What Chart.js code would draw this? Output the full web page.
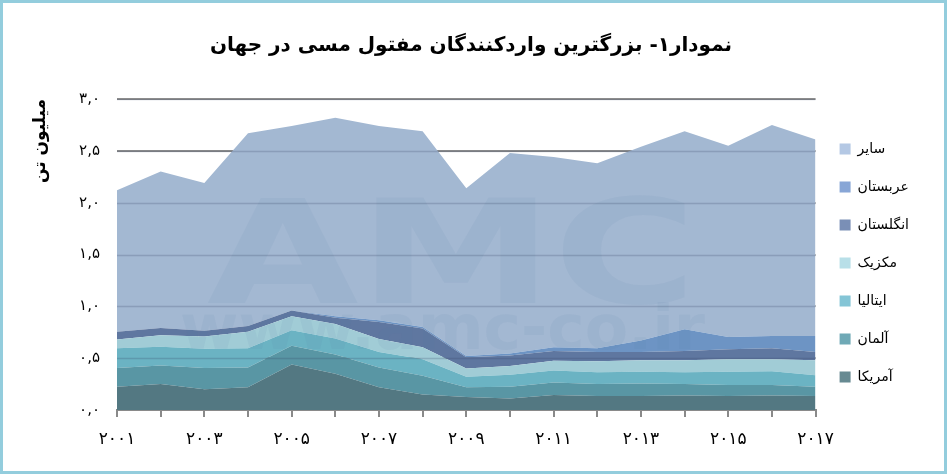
<!DOCTYPE html>
<html>
<head>
<meta charset="utf-8">
<script src="https://cdn.jsdelivr.net/npm/chart.js@4.4.1/dist/chart.umd.min.js"></script>
<style>
  html, body { margin: 0; padding: 0; background: #fff; }
  #wrap { position: relative; width: 947px; height: 474px; box-sizing: border-box; border: 3px solid #93cddd; }
</style>
</head>
<body>
<div id="wrap"><canvas id="chart" dir="rtl"></canvas></div>
<script>
// years on the x axis
const years = [2001, 2002, 2003, 2004, 2005, 2006, 2007, 2008, 2009,
               2010, 2011, 2012, 2013, 2014, 2015, 2016, 2017];

// series, bottom of the stack first (million tonnes)
const seriesNames = ['آمریکا', 'آلمان', 'ایتالیا', 'مکزیک', 'انگلستان', 'عربستان', 'سایر'];
const usa     = [0.225, 0.25, 0.20, 0.22, 0.44, 0.35, 0.22, 0.15, 0.125, 0.11, 0.145, 0.135, 0.135, 0.14, 0.135, 0.14, 0.135];
const germany = [0.18, 0.18, 0.205, 0.19, 0.18, 0.185, 0.19, 0.18, 0.095, 0.115, 0.12, 0.115, 0.12, 0.11, 0.105, 0.10, 0.09];
const italy   = [0.19, 0.18, 0.185, 0.185, 0.15, 0.155, 0.15, 0.16, 0.10, 0.115, 0.115, 0.115, 0.115, 0.115, 0.13, 0.135, 0.11];
const mexico  = [0.085, 0.11, 0.12, 0.16, 0.135, 0.14, 0.125, 0.115, 0.08, 0.085, 0.095, 0.105, 0.11, 0.115, 0.12, 0.115, 0.145];
const uk      = [0.075, 0.07, 0.055, 0.055, 0.055, 0.06, 0.165, 0.18, 0.11, 0.10, 0.095, 0.09, 0.08, 0.09, 0.095, 0.105, 0.08];
const saudi   = [0, 0, 0, 0, 0, 0.015, 0.015, 0.015, 0.01, 0.02, 0.035, 0.035, 0.11, 0.21, 0.12, 0.12, 0.155];
const others  = [1.365, 1.51, 1.425, 1.86, 1.78, 1.915, 1.875, 1.89, 1.62, 1.935, 1.835, 1.785, 1.87, 1.91, 1.845, 2.035, 1.895];
const seriesValues = [usa, germany, italy, mexico, uk, saudi, others];

const titleText = 'نمودار۱- بزرگترین واردکنندگان مفتول مسی در جهان';
const yTitle = 'میلیون تن';

const fillColors   = ['#537882', '#5996a4', '#6bb3c3', '#a1ccd6', '#5f77a0', '#6d94c4', '#a3b8d2'];
const legendColors = ['#678a92', '#6fa9b6', '#84c5d6', '#b8dfe8', '#7a8fb6', '#88a6d6', '#b4c8e4'];

const faDigits = '۰۱۲۳۴۵۶۷۸۹';
function toFa(s) {
  return String(s).replace(/[0-9]/g, d => faDigits[+d]);
}

const FONT = "'DejaVu Sans', sans-serif";

// faint watermark + grid lines over the filled areas
const overlay = {
  id: 'overlay',
  afterDatasetsDraw(chart) {
    const ctx = chart.ctx;
    const ca = chart.chartArea;
    ctx.save();
    ctx.beginPath();
    ctx.rect(ca.left, ca.top, ca.right - ca.left, ca.bottom - ca.top);
    ctx.clip();
    ctx.fillStyle = 'rgba(80,120,160,0.075)';
    ctx.textBaseline = 'alphabetic';
    ctx.textAlign = 'left';
    ctx.direction = 'ltr';
    ctx.font = 'bold 144px ' + FONT;
    let w = ctx.measureText('AMC').width;
    ctx.save();
    ctx.translate(ca.left + 90, ca.top + 204);
    ctx.scale(490 / w, 1);
    ctx.fillText('AMC', 0, 0);
    ctx.restore();
    ctx.font = 'bold 62px ' + FONT;
    w = ctx.measureText('www.amc-co.ir').width;
    ctx.save();
    ctx.translate(ca.left + 63, ca.top + 250);
    ctx.scale(525 / w, 1);
    ctx.fillText('www.amc-co.ir', 0, 0);
    ctx.restore();

    const y = chart.scales.y;
    ctx.strokeStyle = 'rgba(50,65,95,0.22)';
    ctx.lineWidth = 1.5;
    y.ticks.forEach(t => {
      if (t.value <= 0) return;
      const py = Math.round(y.getPixelForValue(t.value)) + 0.5;
      ctx.beginPath();
      ctx.moveTo(ca.left, py);
      ctx.lineTo(ca.right, py);
      ctx.stroke();
    });
    ctx.restore();
  }
};

new Chart(document.getElementById('chart'), {
  type: 'line',
  data: {
    labels: years,
    datasets: seriesValues.map((vals, i) => ({
      label: seriesNames[i],
      data: vals,
      fill: i === 0 ? 'origin' : '-1',
      backgroundColor: fillColors[i],
      borderColor: fillColors[i],
      borderWidth: 0,
      pointRadius: 0,
      tension: 0
    }))
  },
  options: {
    responsive: true,
    maintainAspectRatio: false,
    animation: false,
    layout: { padding: { left: 20, right: 25, top: 0, bottom: 0 } },
    plugins: {
      title: {
        display: true,
        text: titleText,
        color: '#000',
        font: { family: FONT, size: 20, weight: 'bold' },
        padding: { top: 31, bottom: 41 }
      },
      legend: {
        position: 'right',
        reverse: true,
        fullSize: false,
        title: { display: true, text: ' ', font: { size: 1 }, padding: 8 },
        labels: {
          boxWidth: 11,
          boxHeight: 11,
          padding: 24,
          color: '#000',
          font: { family: FONT, size: 14 },
          generateLabels(chart) {
            const items = Chart.defaults.plugins.legend.labels.generateLabels(chart);
            items.forEach(it => {
              it.fillStyle = legendColors[it.datasetIndex];
              it.strokeStyle = legendColors[it.datasetIndex];
              it.lineWidth = 0;
            });
            return items;
          }
        }
      },
      tooltip: { enabled: false }
    },
    scales: {
      x: {
        grid: { drawOnChartArea: false, drawTicks: true, tickLength: 7, color: '#8a8a8a', lineWidth: 2 },
        border: { display: true, color: '#8a8a8a', width: 2 },
        ticks: {
          autoSkip: false,
          maxRotation: 0,
          padding: 12,
          color: '#000',
          font: { family: FONT, size: 17 },
          callback: (v, i) => (i % 2 === 0 ? toFa(years[i]) : '')
        },
        afterFit(s) { s.height = 61; }
      },
      y: {
        stacked: true,
        min: 0,
        max: 3,
        grid: { color: '#8d8d8d', lineWidth: 2, drawTicks: false },
        border: { display: false },
        ticks: {
          stepSize: 0.5,
          padding: 17,
          color: '#000',
          font: { family: FONT, size: 15 },
          callback: v => toFa(v.toFixed(1)).replace('.', ',')
        },
        title: {
          display: true,
          text: yTitle,
          align: 'end',
          color: '#000',
          font: { family: FONT, size: 17, weight: 'bold' },
          padding: { top: 7, bottom: 0 }
        },
        afterFit(s) { s.width = 94; }
      }
    }
  },
  plugins: [overlay]
});
</script>
</body>
</html>
